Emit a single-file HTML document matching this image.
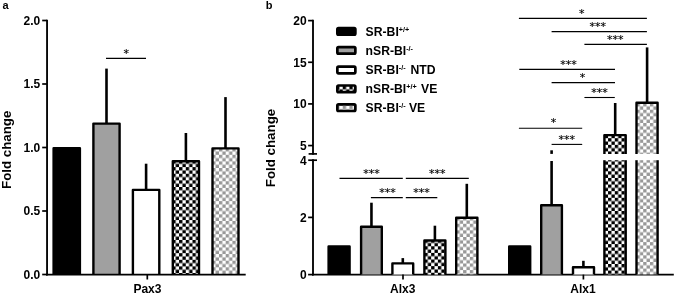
<!DOCTYPE html>
<html><head><meta charset="utf-8"><title>Figure</title>
<style>
html,body{margin:0;padding:0;background:#fff;}
body{width:675px;height:294px;overflow:hidden;}
svg{display:block;}
text{font-family:"Liberation Sans",sans-serif;fill:#000;}
.b{font-weight:bold;}
</style></head><body>
<svg width="675" height="294" viewBox="0 0 675 294">
<defs>
<pattern id="chk" patternUnits="userSpaceOnUse" width="6.72" height="6.62" patternTransform="translate(0,0)"><rect width="6.72" height="6.62" fill="#fff"/><rect x="0" y="0" width="3.36" height="3.31" fill="#000"/><rect x="3.36" y="3.31" width="3.36" height="3.31" fill="#000"/></pattern>
<pattern id="chg" patternUnits="userSpaceOnUse" width="6.72" height="6.62" patternTransform="translate(0,0)"><rect width="6.72" height="6.62" fill="#fff"/><rect x="0" y="0" width="3.36" height="3.31" fill="#989898"/><rect x="3.36" y="3.31" width="3.36" height="3.31" fill="#989898"/></pattern>
<pattern id="pa4" patternUnits="userSpaceOnUse" width="6.72" height="6.62" patternTransform="translate(179.05,193.6)"><rect width="6.72" height="6.62" fill="#fff"/><rect x="0" y="0" width="3.36" height="3.31" fill="#000"/><rect x="3.36" y="3.31" width="3.36" height="3.31" fill="#000"/></pattern>
<pattern id="pa5" patternUnits="userSpaceOnUse" width="6.72" height="6.62" patternTransform="translate(218.96,194.5)"><rect width="6.72" height="6.62" fill="#fff"/><rect x="0" y="0" width="3.36" height="3.31" fill="#989898"/><rect x="3.36" y="3.31" width="3.36" height="3.31" fill="#989898"/></pattern>
<pattern id="a3b4" patternUnits="userSpaceOnUse" width="6.72" height="6.62" patternTransform="translate(424.43,252.9)"><rect width="6.72" height="6.62" fill="#fff"/><rect x="0" y="0" width="3.36" height="3.31" fill="#000"/><rect x="3.36" y="3.31" width="3.36" height="3.31" fill="#000"/></pattern>
<pattern id="a3b5" patternUnits="userSpaceOnUse" width="6.72" height="6.62" patternTransform="translate(463.1,270.1)"><rect width="6.72" height="6.62" fill="#fff"/><rect x="0" y="0" width="3.36" height="3.31" fill="#989898"/><rect x="3.36" y="3.31" width="3.36" height="3.31" fill="#989898"/></pattern>
<pattern id="a1b4" patternUnits="userSpaceOnUse" width="6.72" height="6.62" patternTransform="translate(608.07,270.6)"><rect width="6.72" height="6.62" fill="#fff"/><rect x="0" y="0" width="3.36" height="3.31" fill="#000"/><rect x="3.36" y="3.31" width="3.36" height="3.31" fill="#000"/></pattern>
<pattern id="a1b5" patternUnits="userSpaceOnUse" width="6.72" height="6.62" patternTransform="translate(643.2,268.6)"><rect width="6.72" height="6.62" fill="#fff"/><rect x="0" y="0" width="3.36" height="3.31" fill="#989898"/><rect x="3.36" y="3.31" width="3.36" height="3.31" fill="#989898"/></pattern>
</defs>
<rect width="675" height="294" fill="#fff"/>
<text x="2.6" y="9.0" font-size="11" text-anchor="start" class="b">a</text>
<path d="M53.60 274.60V148.20H79.90V274.60" fill="#000" stroke="#000" stroke-width="2.4" stroke-linejoin="round"/>
<line x1="106.5" y1="68.6" x2="106.5" y2="123.4" stroke="#000" stroke-width="2.6"/>
<path d="M93.40 274.60V123.60H119.60V274.60" fill="#a0a0a0" stroke="#000" stroke-width="2.4" stroke-linejoin="round"/>
<line x1="146.1" y1="163.7" x2="146.1" y2="189.7" stroke="#000" stroke-width="2.6"/>
<path d="M132.90 274.60V189.90H159.30V274.60" fill="#fff" stroke="#000" stroke-width="2.4" stroke-linejoin="round"/>
<line x1="185.89999999999998" y1="133.0" x2="185.89999999999998" y2="161.1" stroke="#000" stroke-width="2.6"/>
<path d="M172.80 274.60V161.30H199.00V274.60" fill="url(#pa4)" stroke="#000" stroke-width="2.4" stroke-linejoin="round"/>
<line x1="225.5" y1="97.1" x2="225.5" y2="148.2" stroke="#000" stroke-width="2.6"/>
<path d="M212.50 274.60V148.40H238.50V274.60" fill="url(#pa5)" stroke="#000" stroke-width="2.4" stroke-linejoin="round"/>
<line x1="47.05" y1="19.65" x2="47.05" y2="275.45000000000005" stroke="#000" stroke-width="1.85"/>
<line x1="46" y1="274.6" x2="245.7" y2="274.6" stroke="#000" stroke-width="1.7"/>
<line x1="42.2" y1="20.5" x2="47" y2="20.5" stroke="#000" stroke-width="1.7"/>
<text x="40.3" y="24.8" font-size="12" text-anchor="end" class="b">2.0</text>
<line x1="42.2" y1="84" x2="47" y2="84" stroke="#000" stroke-width="1.7"/>
<text x="40.3" y="88.3" font-size="12" text-anchor="end" class="b">1.5</text>
<line x1="42.2" y1="147.5" x2="47" y2="147.5" stroke="#000" stroke-width="1.7"/>
<text x="40.3" y="151.8" font-size="12" text-anchor="end" class="b">1.0</text>
<line x1="42.2" y1="211" x2="47" y2="211" stroke="#000" stroke-width="1.7"/>
<text x="40.3" y="215.3" font-size="12" text-anchor="end" class="b">0.5</text>
<line x1="42.2" y1="274.5" x2="47" y2="274.5" stroke="#000" stroke-width="1.7"/>
<text x="40.3" y="278.8" font-size="12" text-anchor="end" class="b">0.0</text>
<line x1="147.3" y1="274.6" x2="147.3" y2="279.5" stroke="#000" stroke-width="1.7"/>
<text x="147.4" y="293.0" font-size="12" text-anchor="middle" class="b">Pax3</text>
<text transform="translate(10.7,149.8) rotate(-90)" font-size="13.3" text-anchor="middle" class="b">Fold change</text>
<line x1="106" y1="58.4" x2="146" y2="58.4" stroke="#000" stroke-width="1.1"/>
<text x="126.3" y="56.6" font-size="11" text-anchor="middle" style="font-family:'DejaVu Sans',sans-serif" stroke="#000" stroke-width="0.15">*</text>
<text x="265.8" y="9.3" font-size="11" text-anchor="start" class="b">b</text>
<rect x="337.35" y="28.10" width="18.0" height="6.6" rx="1.2" ry="1.2" fill="#000" stroke="#000" stroke-width="2.7"/>
<text x="365.6" y="35.699999999999996" font-size="12.2" text-anchor="start" class="b">SR-BI<tspan font-size="7.2" dy="-3.9">+/+</tspan></text>
<rect x="337.35" y="47.10" width="18.0" height="6.6" rx="1.2" ry="1.2" fill="#a0a0a0" stroke="#000" stroke-width="2.7"/>
<text x="365.6" y="54.699999999999996" font-size="12.2" text-anchor="start" class="b">nSR-BI<tspan font-size="7.2" dy="-3.9">-/-</tspan></text>
<rect x="337.35" y="66.70" width="18.0" height="6.6" rx="1.2" ry="1.2" fill="#fff" stroke="#000" stroke-width="2.7"/>
<text x="365.6" y="74.3" font-size="12.2" text-anchor="start" class="b">SR-BI<tspan font-size="7.2" dy="-3.9">-/-</tspan><tspan dy="3.9" dx="1.6"> NTD</tspan></text>
<rect x="337.35" y="85.50" width="18.0" height="6.6" rx="1.2" ry="1.2" fill="url(#chk)" stroke="#000" stroke-width="2.7"/>
<text x="365.6" y="93.1" font-size="12.2" text-anchor="start" class="b">nSR-BI<tspan font-size="7.2" dy="-3.9">+/+</tspan><tspan dy="3.9" dx="1"> VE</tspan></text>
<rect x="337.35" y="104.40" width="18.0" height="6.6" rx="1.2" ry="1.2" fill="url(#chg)" stroke="#000" stroke-width="2.7"/>
<text x="365.6" y="112.0" font-size="12.2" text-anchor="start" class="b">SR-BI<tspan font-size="7.2" dy="-3.9">-/-</tspan><tspan dy="3.9"> VE</tspan></text>
<line x1="313" y1="19.75" x2="313" y2="154.75" stroke="#000" stroke-width="1.85"/>
<line x1="313" y1="159.35" x2="313" y2="275.45000000000005" stroke="#000" stroke-width="1.85"/>
<line x1="308.6" y1="153.9" x2="317" y2="153.9" stroke="#000" stroke-width="1.7"/>
<line x1="308.2" y1="160.2" x2="317" y2="160.2" stroke="#000" stroke-width="1.7"/>
<line x1="308.1" y1="20.620000000000005" x2="313" y2="20.620000000000005" stroke="#000" stroke-width="1.7"/>
<text x="306.6" y="24.920000000000005" font-size="12" text-anchor="end" class="b">20</text>
<line x1="308.1" y1="62.27000000000001" x2="313" y2="62.27000000000001" stroke="#000" stroke-width="1.7"/>
<text x="306.6" y="66.57000000000001" font-size="12" text-anchor="end" class="b">15</text>
<line x1="308.1" y1="103.92" x2="313" y2="103.92" stroke="#000" stroke-width="1.7"/>
<text x="306.6" y="108.22" font-size="12" text-anchor="end" class="b">10</text>
<line x1="308.1" y1="145.57" x2="313" y2="145.57" stroke="#000" stroke-width="1.7"/>
<text x="306.6" y="149.87" font-size="12" text-anchor="end" class="b">5</text>
<text x="306.6" y="164.50000000000003" font-size="12" text-anchor="end" class="b">4</text>
<line x1="308.1" y1="217.40000000000003" x2="313" y2="217.40000000000003" stroke="#000" stroke-width="1.7"/>
<text x="306.6" y="221.70000000000005" font-size="12" text-anchor="end" class="b">2</text>
<line x1="308.1" y1="274.6" x2="313" y2="274.6" stroke="#000" stroke-width="1.7"/>
<text x="306.6" y="278.90000000000003" font-size="12" text-anchor="end" class="b">0</text>
<line x1="312" y1="274.6" x2="673.8" y2="274.6" stroke="#000" stroke-width="1.7"/>
<text transform="translate(275.3,148.0) rotate(-90)" font-size="13.3" text-anchor="middle" class="b">Fold change</text>
<path d="M328.60 274.60V246.40H349.60V274.60" fill="#000" stroke="#000" stroke-width="2.4" stroke-linejoin="round"/>
<line x1="371.45" y1="202.7" x2="371.45" y2="226.5" stroke="#000" stroke-width="2.6"/>
<path d="M361.10 274.60V226.70H381.80V274.60" fill="#a0a0a0" stroke="#000" stroke-width="2.4" stroke-linejoin="round"/>
<line x1="402.79999999999995" y1="258.1" x2="402.79999999999995" y2="263.2" stroke="#000" stroke-width="2.6"/>
<path d="M392.40 274.60V263.40H413.20V274.60" fill="#fff" stroke="#000" stroke-width="2.4" stroke-linejoin="round"/>
<line x1="434.9" y1="225.7" x2="434.9" y2="240.3" stroke="#000" stroke-width="2.6"/>
<path d="M424.40 274.60V240.50H445.40V274.60" fill="url(#a3b4)" stroke="#000" stroke-width="2.4" stroke-linejoin="round"/>
<line x1="466.8" y1="183.8" x2="466.8" y2="217.5" stroke="#000" stroke-width="2.6"/>
<path d="M456.20 274.60V217.70H477.40V274.60" fill="url(#a3b5)" stroke="#000" stroke-width="2.4" stroke-linejoin="round"/>
<line x1="403.0" y1="274.6" x2="403.0" y2="279.5" stroke="#000" stroke-width="1.7"/>
<text x="402.8" y="292.9" font-size="12" text-anchor="middle" class="b">Alx3</text>
<line x1="339.5" y1="178.4" x2="402.8" y2="178.4" stroke="#000" stroke-width="1.1"/>
<line x1="405.8" y1="178.4" x2="468.8" y2="178.4" stroke="#000" stroke-width="1.1"/>
<line x1="370.9" y1="197.6" x2="402.8" y2="197.6" stroke="#000" stroke-width="1.1"/>
<line x1="405.8" y1="197.6" x2="437.3" y2="197.6" stroke="#000" stroke-width="1.1"/>
<text x="371.4" y="176.6" font-size="11" text-anchor="middle" style="font-family:'DejaVu Sans',sans-serif" stroke="#000" stroke-width="0.15">***</text>
<text x="437.3" y="176.6" font-size="11" text-anchor="middle" style="font-family:'DejaVu Sans',sans-serif" stroke="#000" stroke-width="0.15">***</text>
<text x="387.6" y="195.79999999999998" font-size="11" text-anchor="middle" style="font-family:'DejaVu Sans',sans-serif" stroke="#000" stroke-width="0.15">***</text>
<text x="421.6" y="195.79999999999998" font-size="11" text-anchor="middle" style="font-family:'DejaVu Sans',sans-serif" stroke="#000" stroke-width="0.15">***</text>
<path d="M509.20 274.60V246.40H530.20V274.60" fill="#000" stroke="#000" stroke-width="2.4" stroke-linejoin="round"/>
<line x1="551.6" y1="161.0" x2="551.6" y2="206.10200000000003" stroke="#000" stroke-width="2.6"/>
<line x1="551.6" y1="150.3" x2="551.6" y2="153.9" stroke="#000" stroke-width="2.6"/>
<path d="M541.20 274.60V205.30H561.90V274.60" fill="#a0a0a0" stroke="#000" stroke-width="2.4" stroke-linejoin="round"/>
<line x1="583.4" y1="260.8" x2="583.4" y2="267" stroke="#000" stroke-width="2.6"/>
<path d="M573.00 274.60V267.30H594.00V274.60" fill="#fff" stroke="#000" stroke-width="2.4" stroke-linejoin="round"/>
<line x1="615.2" y1="103.0" x2="615.2" y2="135" stroke="#000" stroke-width="2.6"/>
<line x1="647.1" y1="47.4" x2="647.1" y2="103" stroke="#000" stroke-width="2.6"/>
<g><path d="M604.40 274.60V135.10H625.70V274.60" fill="url(#a1b4)" stroke="#000" stroke-width="2.4" stroke-linejoin="round"/>
<path d="M636.50 274.60V102.80H657.60V274.60" fill="url(#a1b5)" stroke="#000" stroke-width="2.4" stroke-linejoin="round"/>
</g><rect x="598" y="154.0" width="66" height="6.2" fill="#fff"/>
<line x1="583.4" y1="274.6" x2="583.4" y2="279.5" stroke="#000" stroke-width="1.7"/>
<text x="583.0" y="292.9" font-size="12" text-anchor="middle" class="b">Alx1</text>
<line x1="518.9" y1="18.4" x2="646.9" y2="18.4" stroke="#000" stroke-width="1.1"/>
<text x="581.7" y="16.599999999999998" font-size="11" text-anchor="middle" style="font-family:'DejaVu Sans',sans-serif" stroke="#000" stroke-width="0.15">*</text>
<line x1="551.6" y1="31.6" x2="646.9" y2="31.6" stroke="#000" stroke-width="1.1"/>
<text x="597.8" y="29.8" font-size="11" text-anchor="middle" style="font-family:'DejaVu Sans',sans-serif" stroke="#000" stroke-width="0.15">***</text>
<line x1="584.4" y1="44.4" x2="646.9" y2="44.4" stroke="#000" stroke-width="1.1"/>
<text x="615.2" y="42.6" font-size="11" text-anchor="middle" style="font-family:'DejaVu Sans',sans-serif" stroke="#000" stroke-width="0.15">***</text>
<line x1="519.3" y1="69.4" x2="615.0" y2="69.4" stroke="#000" stroke-width="1.1"/>
<text x="568.5" y="67.60000000000001" font-size="11" text-anchor="middle" style="font-family:'DejaVu Sans',sans-serif" stroke="#000" stroke-width="0.15">***</text>
<line x1="551.6" y1="82.6" x2="615.0" y2="82.6" stroke="#000" stroke-width="1.1"/>
<text x="582.5" y="80.8" font-size="11" text-anchor="middle" style="font-family:'DejaVu Sans',sans-serif" stroke="#000" stroke-width="0.15">*</text>
<line x1="584.4" y1="97.5" x2="614.8" y2="97.5" stroke="#000" stroke-width="1.1"/>
<text x="599.6" y="95.7" font-size="11" text-anchor="middle" style="font-family:'DejaVu Sans',sans-serif" stroke="#000" stroke-width="0.15">***</text>
<line x1="518.9" y1="128.2" x2="582.2" y2="128.2" stroke="#000" stroke-width="1.1"/>
<text x="553.4" y="126.39999999999999" font-size="11" text-anchor="middle" style="font-family:'DejaVu Sans',sans-serif" stroke="#000" stroke-width="0.15">*</text>
<line x1="551.6" y1="144.4" x2="582.2" y2="144.4" stroke="#000" stroke-width="1.1"/>
<text x="566.8" y="142.6" font-size="11" text-anchor="middle" style="font-family:'DejaVu Sans',sans-serif" stroke="#000" stroke-width="0.15">***</text>
</svg>
</body></html>
